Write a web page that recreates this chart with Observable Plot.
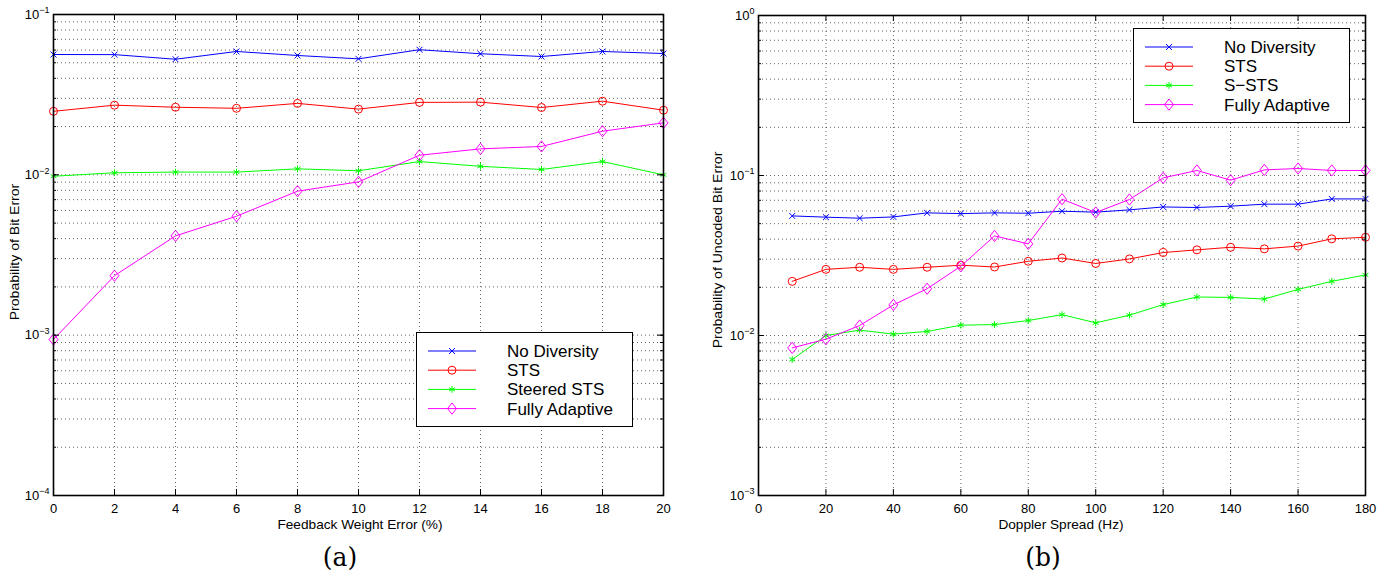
<!DOCTYPE html>
<html><head><meta charset="utf-8">
<script src="https://cdn.jsdelivr.net/npm/d3@7"></script>
<script src="https://cdn.jsdelivr.net/npm/@observablehq/plot@0.6"></script>
<style>
body{margin:0;background:#fff;font-family:"Liberation Sans",Arial,sans-serif;}
#root{position:relative;width:1390px;height:574px;overflow:hidden;background:#fff}
.panel{position:absolute;top:0}
.lbl{position:absolute;font-size:13px;white-space:nowrap;color:#000;transform:translate(-50%,-50%) scaleX(1.05)}
.ylbl{transform:translate(-50%,-50%) rotate(-90deg) scaleX(1.08)}
.cap{position:absolute;font-family:"DejaVu Serif","Liberation Serif",serif;font-size:25px;transform:translate(-50%,-50%) scaleY(1.05);white-space:nowrap;font-weight:300}
.legend{position:absolute}
</style></head><body><div id="root"></div><script>
// ---------- data ----------
const xA = [0, 2, 4, 6, 8, 10, 12, 14, 16, 18, 20];
const noDivA = [0.0563, 0.0562, 0.0526, 0.0588, 0.0555, 0.0529, 0.0603, 0.0569, 0.0547, 0.0588, 0.0571];
const stsA   = [0.0249, 0.0272, 0.0264, 0.0260, 0.0279, 0.0257, 0.0283, 0.0284, 0.0263, 0.0288, 0.0253];
const sstsA  = [0.0098, 0.0103, 0.0104, 0.0104, 0.0109, 0.0106, 0.0121, 0.0113, 0.0108, 0.0121, 0.0100];
const faA    = [0.00094, 0.00235, 0.00416, 0.00552, 0.00791, 0.00904, 0.01325, 0.01452, 0.01503, 0.01871, 0.0211];

const xB = [10, 20, 30, 40, 50, 60, 70, 80, 90, 100, 110, 120, 130, 140, 150, 160, 170, 180];
const noDivB = [0.0559, 0.0549, 0.0541, 0.0551, 0.0584, 0.0578, 0.0584, 0.0581, 0.0598, 0.0590, 0.0610, 0.0636, 0.0631, 0.0643, 0.0662, 0.0662, 0.0714, 0.0714];
const stsB   = [0.0218, 0.0259, 0.0267, 0.0259, 0.0267, 0.0275, 0.0268, 0.0291, 0.0305, 0.0282, 0.0301, 0.0330, 0.0343, 0.0356, 0.0348, 0.0362, 0.0402, 0.0411];
const sstsB  = [0.00708, 0.0100, 0.0108, 0.0102, 0.0106, 0.0116, 0.0117, 0.0124, 0.0135, 0.0120, 0.0134, 0.0156, 0.0174, 0.0173, 0.0169, 0.0194, 0.0218, 0.0239];
const faB    = [0.00837, 0.00948, 0.01155, 0.01553, 0.0196, 0.0271, 0.0419, 0.0374, 0.0711, 0.0587, 0.0708, 0.0966, 0.1075, 0.0935, 0.1084, 0.1106, 0.1075, 0.1075];

const namesA = ["No Diversity", "STS", "Steered STS", "Fully Adaptive"];
const namesB = ["No Diversity", "STS", "S\u2212STS", "Fully Adaptive"];
const colors = ["#0000ff", "#ff0000", "#00ff00", "#ff00ff"];

const xTicksA = [0, 2, 4, 6, 8, 10, 12, 14, 16, 18, 20];
const xTicksB = [0, 20, 40, 60, 80, 100, 120, 140, 160, 180];
const yMajorA = [1e-4, 1e-3, 1e-2, 1e-1];
const yMajorB = [1e-3, 1e-2, 1e-1, 1];

const xLabelA = "Feedback Weight Error (%)";
const yLabelA = "Probability of Bit Error";
const xLabelB = "Doppler Spread (Hz)";
const yLabelB = "Probability of Uncoded Bit Error";

// ---------- symbols ----------
const diamondSym = {draw(ctx, size) {
  const hy = Math.sqrt(size / 1.6), hx = 0.8 * hy;
  ctx.moveTo(0, -hy); ctx.lineTo(hx, 0); ctx.lineTo(0, hy); ctx.lineTo(-hx, 0); ctx.closePath();
}};
const syms = ["times", "circle", "asterisk", diamondSym];
const symD3 = [d3.symbolTimes, d3.symbolCircle, d3.symbolAsterisk, diamondSym];
const symR = [2.8, 4, 3.2, 4];

function minorTicks(majors) {
  const out = [];
  for (let i = 0; i < majors.length - 1; i++) for (let k = 1; k < 10; k++) out.push(majors[i] * k);
  out.push(majors[majors.length - 1]);
  return out;
}
const fmt = d => "10^" + String(Math.round(Math.log10(d))).replace("-", "\u2212");

function panel({xs, series, xTicks, xDomain, yMajor, mLeft, mRight, mTop, mBottom}) {
  const W = 695, H = 540;
  const innerW = W - mLeft - mRight, innerH = H - mTop - mBottom;
  const yMinor = minorTicks(yMajor);
  const gridStyle = {stroke: "#333", strokeOpacity: 0.75, strokeDasharray: "1,3", strokeWidth: 1};
  const marks = [
    Plot.gridX(xTicks, gridStyle),
    Plot.gridY(yMinor, gridStyle),
  ];
  series.forEach((ys, i) => {
    marks.push(Plot.line(ys, {x: (d, j) => xs[j], y: d => d, stroke: colors[i], strokeWidth: 1}));
  });
  series.forEach((ys, i) => {
    marks.push(Plot.dot(ys, {x: (d, j) => xs[j], y: d => d, symbol: syms[i], r: symR[i], stroke: colors[i], fill: "none", strokeWidth: 1}));
  });
  marks.push(
    Plot.ruleX(xTicks, {insetTop: innerH - 6, stroke: "#000"}),
    Plot.ruleX(xTicks, {insetBottom: innerH - 6, stroke: "#000"}),
    Plot.ruleY(yMinor, {insetRight: innerW - 3, stroke: "#000"}),
    Plot.ruleY(yMinor, {insetLeft: innerW - 3, stroke: "#000"}),
    Plot.ruleY(yMajor, {insetRight: innerW - 6, stroke: "#000"}),
    Plot.ruleY(yMajor, {insetLeft: innerW - 6, stroke: "#000"}),
    Plot.frame({stroke: "#000", strokeWidth: 1.6}),
    Plot.axisX(xTicks, {tickSize: 0, tickPadding: 8, label: null}),
    Plot.axisY(yMajor, {tickSize: 0, tickPadding: 4, tickFormat: fmt, label: null})
  );
  const svg = Plot.plot({
    width: W, height: H,
    marginLeft: mLeft, marginRight: mRight, marginTop: mTop, marginBottom: mBottom,
    x: {domain: xDomain},
    y: {type: "log", domain: [yMajor[0], yMajor[yMajor.length - 1]]},
    style: {fontFamily: "Liberation Sans, Arial, sans-serif", fontSize: "13px", color: "#000", background: "transparent"},
    marks
  });
  d3.select(svg).selectAll('g[aria-label="y-axis tick label"] text').each(function() {
    const m = this.textContent.match(/^10\^(.+)$/);
    if (!m) return;
    const sel = d3.select(this);
    sel.text(null);
    sel.append("tspan").text("10");
    sel.append("tspan").attr("dy", "-0.6em").attr("font-size", "9px").text(m[1]);
  });
  return svg;
}

const root = document.getElementById("root");

function place(el, left) {
  el.classList.add("panel");
  el.style.left = left + "px";
  root.appendChild(el);
}

place(panel({xs: xA, series: [noDivA, stsA, sstsA, faA], xTicks: xTicksA, xDomain: [0, 20], yMajor: yMajorA,
  mLeft: 53, mRight: 32, mTop: 14, mBottom: 45}), 0);
place(panel({xs: xB, series: [noDivB, stsB, sstsB, faB], xTicks: xTicksB, xDomain: [0, 180], yMajor: yMajorB,
  mLeft: 63, mRight: 25, mTop: 15, mBottom: 45}), 695);

function label(text, x, y, cls) {
  const d = document.createElement("div");
  d.className = cls; d.textContent = text;
  d.style.left = x + "px"; d.style.top = y + "px";
  root.appendChild(d);
}
label(xLabelA, 360, 524, "lbl");
label(xLabelB, 1061, 524, "lbl");
label(yLabelA, 14, 252, "lbl ylbl");
label(yLabelB, 717, 250, "lbl ylbl");
label("(a)", 340, 557, "cap");
label("(b)", 1043, 557, "cap");

function legend(names, left, top) {
  const w = 217, h = 95;
  const svg = d3.create("svg").attr("class", "legend").attr("width", w).attr("height", h)
    .style("left", left + "px").style("top", top + "px");
  svg.append("rect").attr("x", 0.5).attr("y", 0.5).attr("width", w - 1).attr("height", h - 1)
    .attr("fill", "#fff").attr("stroke", "#000").attr("stroke-width", 1);
  names.forEach((n, i) => {
    const y = 19 + i * 19.2;
    svg.append("line").attr("x1", 12).attr("x2", 60).attr("y1", y).attr("y2", y).attr("stroke", colors[i]);
    svg.append("path").attr("transform", `translate(36,${y})`)
      .attr("d", d3.symbol(symD3[i], Math.PI * symR[i] * symR[i])())
      .attr("fill", "none").attr("stroke", colors[i]);
    svg.append("text").attr("x", 91).attr("y", y).attr("dy", "0.35em")
      .attr("font-size", "17px").attr("font-family", "Liberation Sans, Arial, sans-serif").text(n);
  });
  root.appendChild(svg.node());
}
legend(namesA, 416, 332);
legend(namesB, 1133, 28);
</script></body></html>
